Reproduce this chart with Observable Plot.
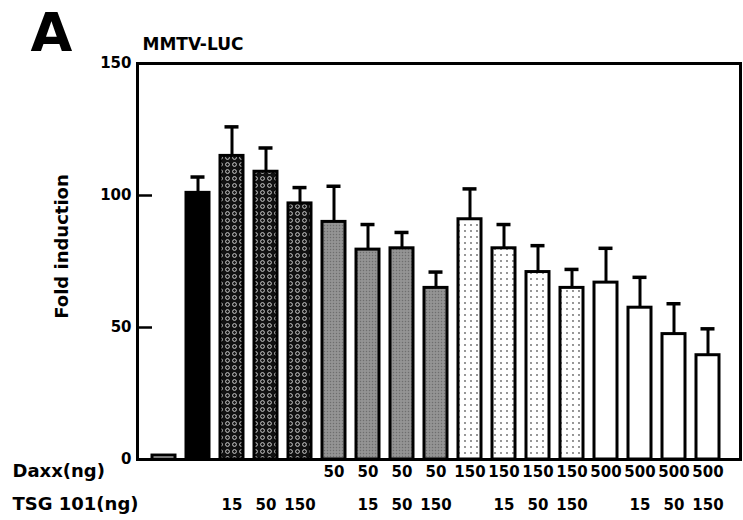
<!DOCTYPE html>
<html>
<head>
<meta charset="utf-8">
<script src="https://cdn.jsdelivr.net/npm/d3@7"></script>
<script src="https://cdn.jsdelivr.net/npm/@observablehq/plot@0.6"></script>
<style>
  html, body { margin: 0; padding: 0; background: #fff; }
  svg { font-family: "DejaVu Sans", "Liberation Sans", Arial, sans-serif; font-weight: bold; }
</style>
</head>
<body>
<div id="chart"></div>
<script>
// ---- data ----
const barIds = d3.range(1, 18);
const foldInduction = [1.5, 101, 115, 109, 97, 90, 79.5, 80, 65, 91, 80, 71, 65, 67, 57.5, 47.5, 39.5];
const errorSD = [0, 6, 11, 9, 6, 13.5, 9.5, 6, 6, 11.5, 9, 10, 7, 13, 11.5, 11.5, 10];
const groups = ["none", "GR", "TSG", "TSG", "TSG", "Daxx50", "Daxx50", "Daxx50", "Daxx50",
  "Daxx150", "Daxx150", "Daxx150", "Daxx150", "Daxx500", "Daxx500", "Daxx500", "Daxx500"];
const daxxLabels = ["", "", "", "", "", "50", "50", "50", "50", "150", "150", "150", "150", "500", "500", "500", "500"];
const tsgLabels = ["", "", "15", "50", "150", "", "15", "50", "150", "", "15", "50", "150", "", "15", "50", "150"];
const yTicks = [0, 50, 100, 150];
const rowLabels = ["Daxx(ng)", "TSG 101(ng)"];

const data = barIds.map((id, i) => ({
  id, value: foldInduction[i], sd: errorSD[i], group: groups[i],
  daxx: daxxLabels[i], tsg: tsgLabels[i]
}));
const withErr = data.filter(d => d.sd > 0);

const chart = Plot.plot({
  width: 743,
  height: 520,
  marginTop: 63,
  marginBottom: 61,
  marginLeft: 137,
  marginRight: 3,
  x: { domain: barIds, padding: 0.32, insetLeft: 3, insetRight: 8, axis: null },
  y: { domain: [0, 150], axis: null },
  color: {
    type: "ordinal",
    domain: ["none", "GR", "TSG", "Daxx50", "Daxx150", "Daxx500"],
    range: ["white", "black", "url(#pDark)", "url(#pGray)", "url(#pLight)", "white"]
  },
  marks: [
    Plot.barY(data, { x: "id", y: "value", fill: "group", stroke: "black", strokeWidth: 3 }),
    Plot.ruleX(withErr, { x: "id", y1: "value", y2: d => d.value + d.sd, stroke: "black", strokeWidth: 3 }),
    Plot.tickY(withErr, { x: "id", y: d => d.value + d.sd, stroke: "black", strokeWidth: 3.5, insetLeft: 4.5, insetRight: 4.5 }),
    Plot.ruleY(yTicks, { y: d => d, stroke: "black", strokeWidth: 2.5, insetRight: 743 - 137 - 3 - 15 }),
    Plot.axisY({ ticks: yTicks, label: null, tickSize: 0, tickPadding: 6, fontSize: 15, fontWeight: "bold", letterSpacing: "-1.5px" }),
    Plot.frame({ stroke: "black", strokeWidth: 3 }),
    Plot.text(data, { x: "id", text: "daxx", frameAnchor: "bottom", dy: 17, fontSize: 15, fontWeight: "bold", letterSpacing: "-1.8px" }),
    Plot.text(data, { x: "id", text: "tsg", frameAnchor: "bottom", dy: 50, fontSize: 15, fontWeight: "bold", letterSpacing: "-1.8px" }),
    Plot.text([rowLabels[0]], { text: d => d, frameAnchor: "bottom-left", dx: -125, dy: 17, textAnchor: "start", fontSize: 18, fontWeight: "bold" }),
    Plot.text([rowLabels[1]], { text: d => d, frameAnchor: "bottom-left", dx: -125, dy: 50, textAnchor: "start", fontSize: 18, fontWeight: "bold" }),
    Plot.text(["A"], { text: d => d, frameAnchor: "top-left", dx: -86, dy: -30, textAnchor: "middle", lineAnchor: "middle", fontSize: 54, fontWeight: "bold" }),
    Plot.text(["MMTV-LUC"], { text: d => d, frameAnchor: "top-left", dx: 5, dy: -19, textAnchor: "start", lineAnchor: "middle", fontSize: 17, fontWeight: "bold", letterSpacing: "-1px" }),
    Plot.text(["Fold induction"], { text: d => d, frameAnchor: "top-left", dx: -75, dy: 183, rotate: -90, textAnchor: "middle", lineAnchor: "middle", fontSize: 18, fontWeight: "bold" })
  ]
});

// pattern fills used by the ordinal color range
const svg = d3.select(chart);
const defs = svg.insert("defs", ":first-child");
const pd = defs.append("pattern").attr("id", "pDark").attr("patternUnits", "userSpaceOnUse").attr("width", 7).attr("height", 7);
pd.append("rect").attr("width", 7).attr("height", 7).attr("fill", "#111");
pd.append("circle").attr("cx", 3.5).attr("cy", 3.5).attr("r", 1.9).attr("fill", "none").attr("stroke", "#ddd").attr("stroke-width", 0.9);
const pg = defs.append("pattern").attr("id", "pGray").attr("patternUnits", "userSpaceOnUse").attr("width", 3).attr("height", 3);
pg.append("rect").attr("width", 3).attr("height", 3).attr("fill", "#8e8e8e");
pg.append("rect").attr("width", 1).attr("height", 1).attr("fill", "#6e6e6e");
pg.append("rect").attr("x", 1.5).attr("y", 1.5).attr("width", 1).attr("height", 1).attr("fill", "#a8a8a8");
const pl = defs.append("pattern").attr("id", "pLight").attr("patternUnits", "userSpaceOnUse").attr("width", 6).attr("height", 6);
pl.append("rect").attr("width", 6).attr("height", 6).attr("fill", "white");
pl.append("circle").attr("cx", 3).attr("cy", 3).attr("r", 0.9).attr("fill", "#666");

document.getElementById("chart").appendChild(chart);
</script>
</body>
</html>
